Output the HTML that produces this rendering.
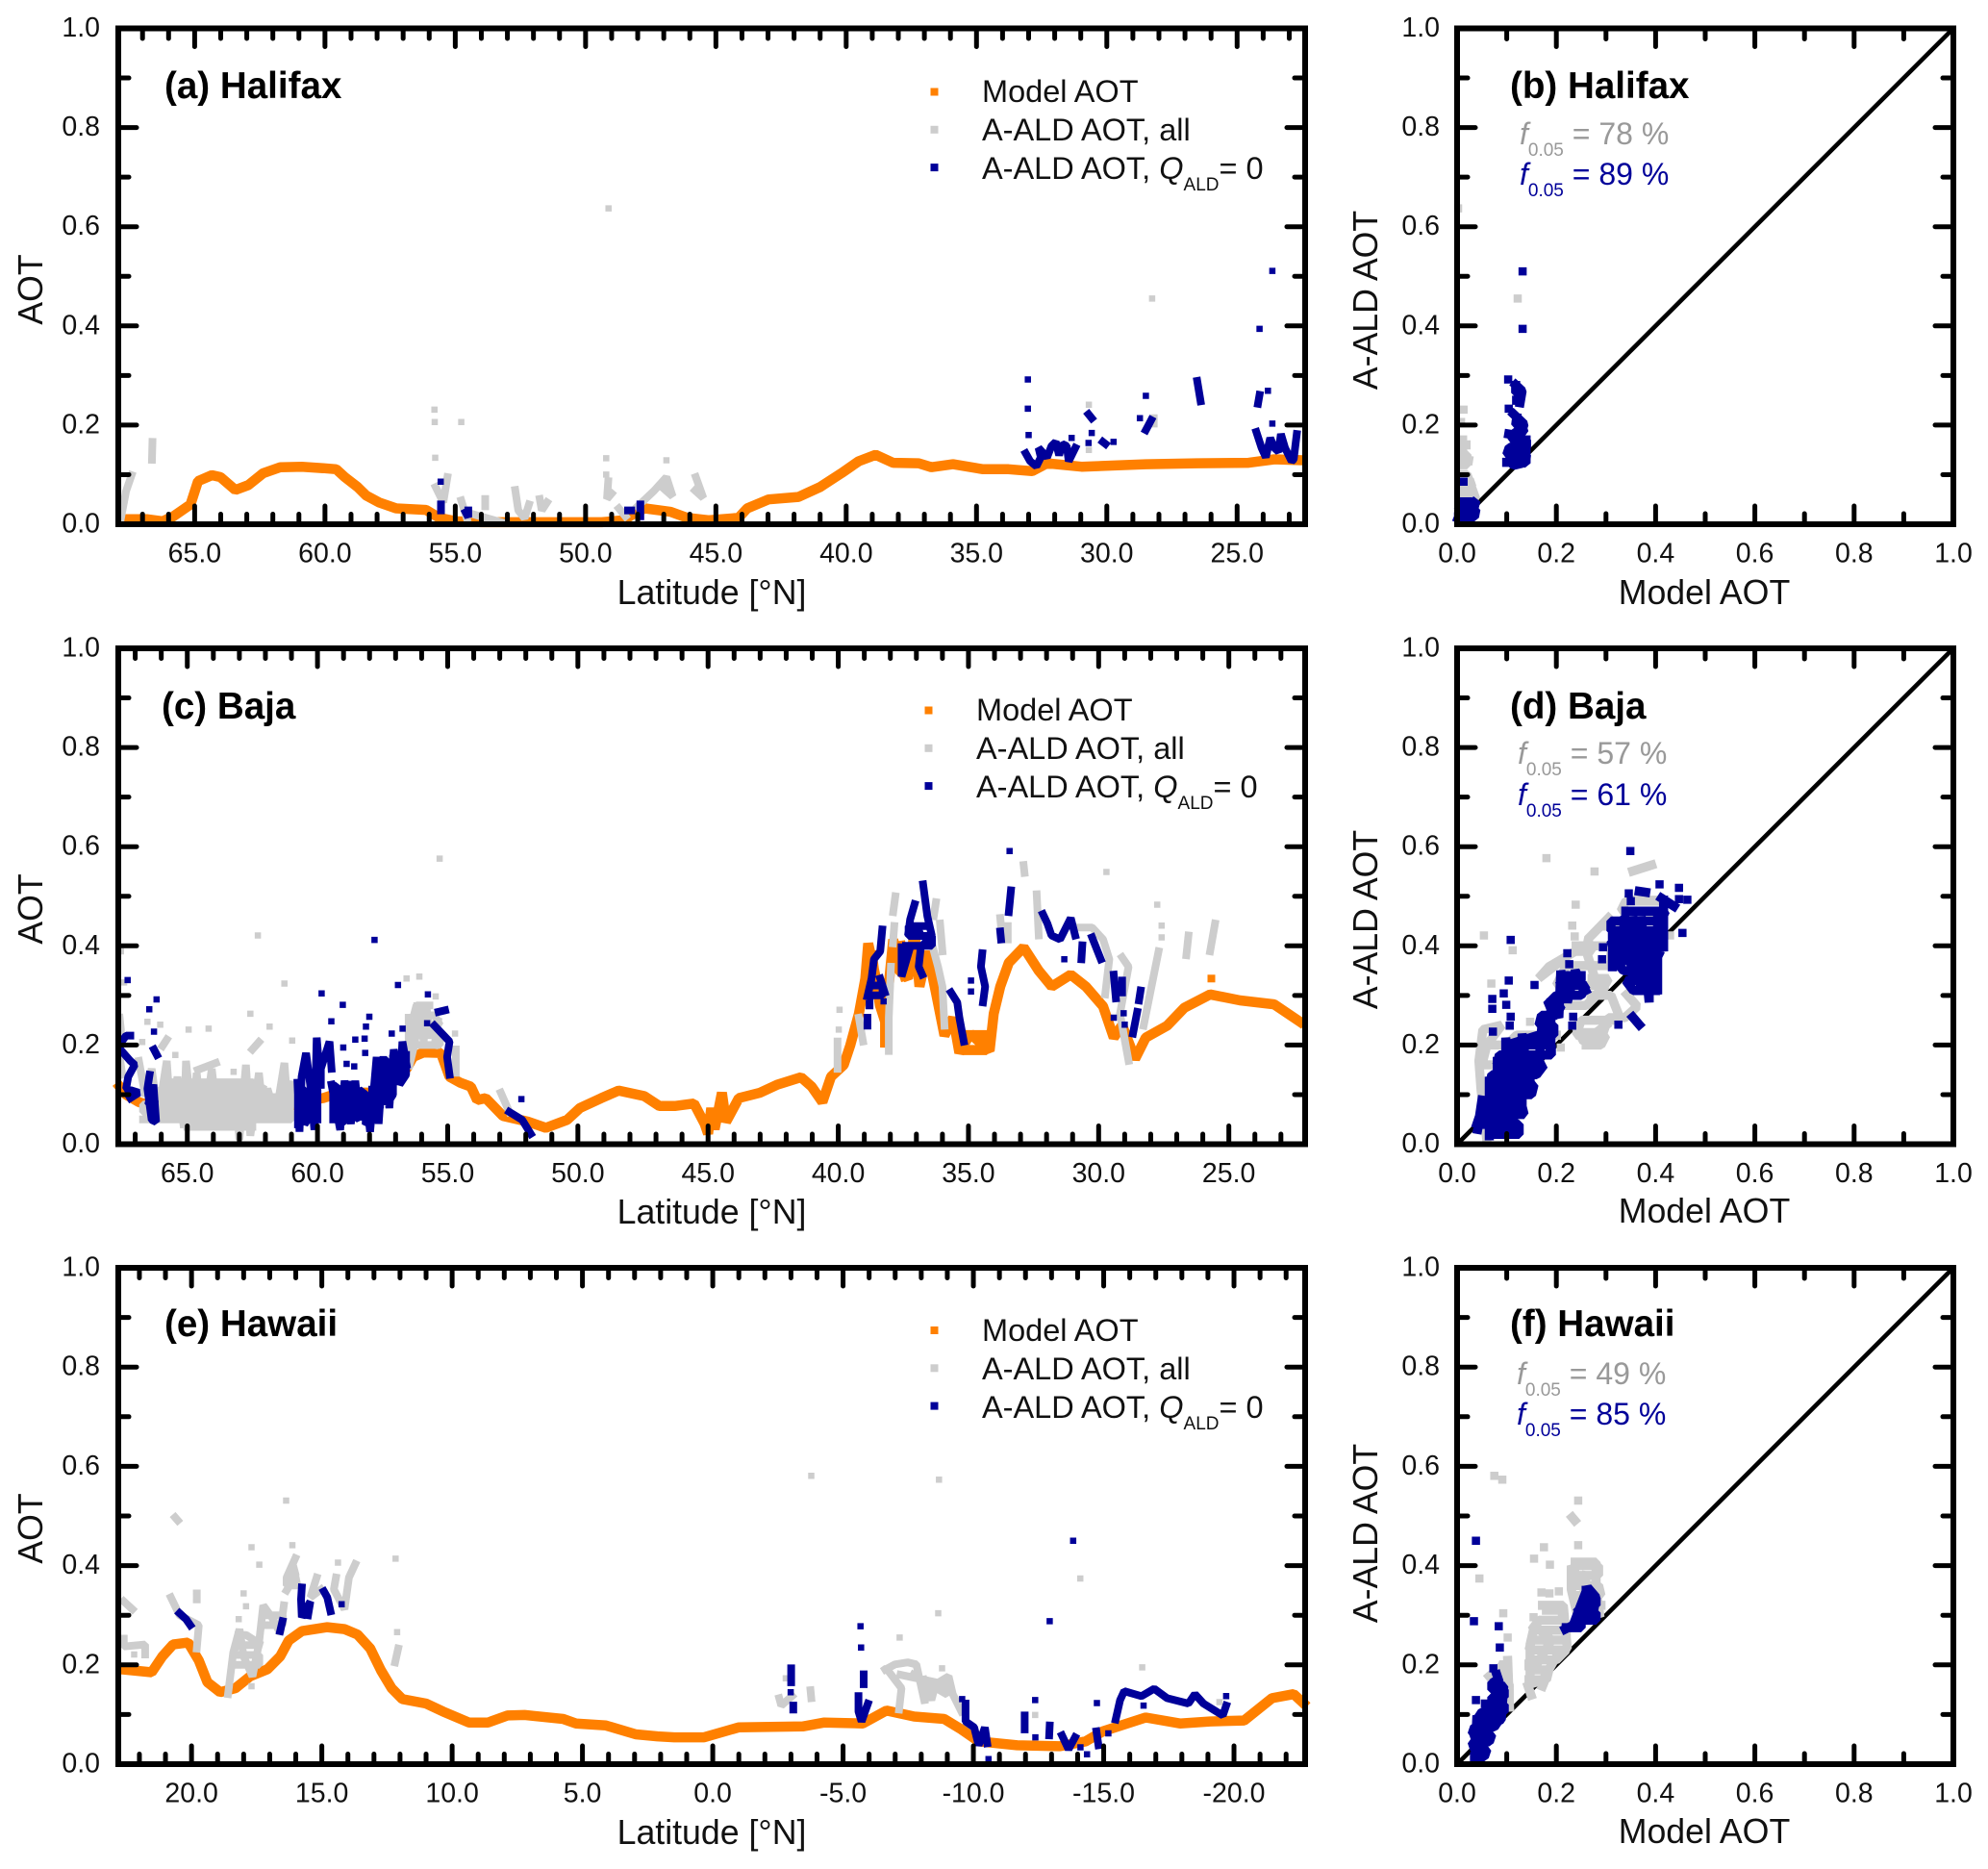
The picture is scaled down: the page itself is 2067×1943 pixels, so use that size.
<!DOCTYPE html>
<html lang="en">
<head>
<meta charset="utf-8">
<title>Model and A-ALD AOT along orbits</title>
<style>
html,body{margin:0;padding:0;background:#fff;}
svg{display:block;}
text{font-family:"Liberation Sans",Arial,sans-serif;fill:#111;}
.axt{font-size:35.7px;}
.ttl{font-size:38.6px;font-weight:bold;fill:#000;}
.leg{font-size:32.5px;}
.sub{font-size:19px;}
.fg{font-size:32px;fill:#999999;}
.fb{font-size:32px;fill:#000099;}
</style>
</head>
<body>
<svg id="fig" xmlns="http://www.w3.org/2000/svg" width="2067" height="1943" viewBox="0 0 2067 1943">
<rect x="0" y="0" width="2067" height="1943" fill="#ffffff"/>
<g id="marks"></g>

<g>
<text class="ttl" x="171" y="102">(a) Halifax</text>
<text class="axt" x="740" y="628" text-anchor="middle">Latitude [°N]</text>
<text class="axt" transform="translate(44,301) rotate(-90)" text-anchor="middle">AOT</text>
<text class="leg" x="1021" y="106">Model AOT</text>
<text class="leg" x="1021" y="146">A-ALD AOT, all</text>
<text class="leg" x="1021" y="186">A-ALD AOT, <tspan font-style="italic">Q</tspan><tspan class="sub" dy="12">ALD</tspan><tspan dy="-12">= 0</tspan></text>
</g>
<g>
<text class="ttl" x="1570" y="102">(b) Halifax</text>
<text class="axt" x="1772" y="628" text-anchor="middle">Model AOT</text>
<text class="axt" transform="translate(1432,312) rotate(-90)" text-anchor="middle">A-ALD AOT</text>
<text class="fg" x="1580" y="150"><tspan font-style="italic">f</tspan><tspan class="sub" dy="12">0.05</tspan><tspan dy="-12"> = 78 %</tspan></text>
<text class="fb" x="1580" y="192"><tspan font-style="italic">f</tspan><tspan class="sub" dy="12">0.05</tspan><tspan dy="-12"> = 89 %</tspan></text>
</g>
<g>
<text class="ttl" x="168" y="747">(c) Baja</text>
<text class="axt" x="740" y="1272" text-anchor="middle">Latitude [°N]</text>
<text class="axt" transform="translate(44,945) rotate(-90)" text-anchor="middle">AOT</text>
<text class="leg" x="1015" y="749">Model AOT</text>
<text class="leg" x="1015" y="789">A-ALD AOT, all</text>
<text class="leg" x="1015" y="829">A-ALD AOT, <tspan font-style="italic">Q</tspan><tspan class="sub" dy="12">ALD</tspan><tspan dy="-12">= 0</tspan></text>
</g>
<g>
<text class="ttl" x="1570" y="747">(d) Baja</text>
<text class="axt" x="1772" y="1271" text-anchor="middle">Model AOT</text>
<text class="axt" transform="translate(1432,956) rotate(-90)" text-anchor="middle">A-ALD AOT</text>
<text class="fg" x="1578" y="794"><tspan font-style="italic">f</tspan><tspan class="sub" dy="12">0.05</tspan><tspan dy="-12"> = 57 %</tspan></text>
<text class="fb" x="1578" y="837"><tspan font-style="italic">f</tspan><tspan class="sub" dy="12">0.05</tspan><tspan dy="-12"> = 61 %</tspan></text>
</g>
<g>
<text class="ttl" x="171" y="1389">(e) Hawaii</text>
<text class="axt" x="740" y="1917" text-anchor="middle">Latitude [°N]</text>
<text class="axt" transform="translate(44,1589) rotate(-90)" text-anchor="middle">AOT</text>
<text class="leg" x="1021" y="1394">Model AOT</text>
<text class="leg" x="1021" y="1434">A-ALD AOT, all</text>
<text class="leg" x="1021" y="1474">A-ALD AOT, <tspan font-style="italic">Q</tspan><tspan class="sub" dy="12">ALD</tspan><tspan dy="-12">= 0</tspan></text>
</g>
<g>
<text class="ttl" x="1570" y="1389">(f) Hawaii</text>
<text class="axt" x="1772" y="1916" text-anchor="middle">Model AOT</text>
<text class="axt" transform="translate(1432,1594) rotate(-90)" text-anchor="middle">A-ALD AOT</text>
<text class="fg" x="1577" y="1439"><tspan font-style="italic">f</tspan><tspan class="sub" dy="12">0.05</tspan><tspan dy="-12"> = 49 %</tspan></text>
<text class="fb" x="1577" y="1481"><tspan font-style="italic">f</tspan><tspan class="sub" dy="12">0.05</tspan><tspan dy="-12"> = 85 %</tspan></text>
</g>
</svg>

<script>
// ---------- tick labels ----------
const yTickValues = [0, 0.2, 0.4, 0.6, 0.8, 1.0];
const modelTickValues = [0, 0.2, 0.4, 0.6, 0.8, 1.0];
const northLatTicks = [65, 60, 55, 50, 45, 40, 35, 30, 25];
const hawaiiLatTicks = [20, 15, 10, 5, 0, -5, -10, -15, -20];

// ---------- (a) Halifax: [latitude, AOT], null separates runs ----------
const halifaxModel = [[67.71,.01],[66.81,.01],[66.23,.006],[65.82,.016],[65.16,.04],[64.87,.087],[64.34,.099],[64.01,.095],[63.44,.069],[62.94,.079],[62.37,.103],[61.71,.115],[60.89,.116],[60.07,.113],[59.57,.111],[59.24,.095],[58.75,.075],[58.42,.058],[57.93,.044],[57.27,.032],[56.12,.029],[55.62,.013],[54.97,.006],[53.98,.004],[52.66,.004],[51.02,.004],[49.38,.004],[48.55,.008],[48.06,.024],[47.73,.032],[46.74,.025],[46.1,.013],[45.28,.008],[44.13,.013],[43.8,.032],[42.98,.05],[41.83,.055],[41,.075],[40.18,.103],[39.52,.127],[38.87,.14],[38.2,.124],[37.22,.123],[36.73,.115],[35.9,.121],[34.75,.111],[33.77,.111],[32.86,.107],[32.29,.123],[30.97,.116],[28.5,.121],[26.53,.123],[24.56,.124],[23.57,.131],[22.5,.129]];
const halifaxAll = [[67.83,.012],[67.63,.067],[67.42,.099],null,[66.64,.13],[66.62,.166],null,[55.8,.231],null,[55.79,.206],null,[55.77,.134],null,[54.77,.206],null,[55.75,.075],[55.46,.044],[55.3,.095],null,[54.77,.048],[54.56,.012],null,[54.3,.02],[53.24,.004],null,[53.85,.051],[53.85,.036],null,[52.7,.069],[52.58,.028],[52.34,.012],[52.17,.04],null,[51.76,.051],[51.68,.028],[51.48,.044],null,[49.21,.133],null,[49.21,.1],null,[49.13,.087],[49.18,.051],[49,.062],null,[48.72,.032],[48.47,.016],null,[46.9,.129],null,[48,.036],[47.38,.067],[46.9,.095],[46.66,.056],[47.07,.075],null,[45.77,.095],[45.48,.053],[45.8,.068],null,[49.12,.637],null,[28.26,.455],null,[30.69,.241],null,[30.69,.15],null,[28.2,.214],[28.2,.203]];
const halifaxClear = [[55.56,.086],null,[55.55,.04],[55.55,.028],null,[54.6,.024],[54.5,.014],[54.5,.028],null,[48.37,.028],[48.25,.028],null,[47.9,.04],[47.9,.016],null,[33.03,.292],null,[33.03,.233],null,[33,.18],null,[33.11,.143],[32.94,.127],[32.7,.117],[32.53,.135],[32.62,.154],[32.29,.135],[32.12,.158],[31.96,.166],[31.83,.139],[31.71,.162],[31.54,.158],[31.46,.127],[31.21,.154],null,[31.35,.174],null,[30.7,.222],[30.58,.214],null,[30.58,.184],null,[30.7,.164],null,[30.15,.166],[30.05,.162],null,[29.74,.166],null,[28.73,.214],null,[28.5,.259],null,[28.5,.19],[28.3,.21],null,[26.53,.289],[26.4,.248],null,[24.14,.394],null,[23.65,.511],null,[23.82,.269],null,[24.14,.261],[24.2,.243],null,[23.65,.203],null,[24.26,.186],[24.06,.154],[23.9,.135],[23.73,.174],[23.57,.154],[23.41,.146],[23.32,.182],[23.16,.154],[22.91,.127],[22.83,.131],[22.71,.182]];

// ---------- (b) Halifax scatter: [model, A-ALD] ----------
const halifaxScatterAll = [[.122,.455],null,[.002,.637],null,[.013,.231],null,[.008,.206],null,[.011,.17],[.011,.131],[.023,.129],null,[.004,.1],[.02,.1],[.038,.05],[.004,.07],[.03,.06],[.004,.03],[.02,.01],null,[.005,.12],[.02,.12],[.02,.14],[.008,.14],[.008,.16],[.018,.16],null,[.005,.09],[.025,.09],[.03,.075],[.005,.075],[.005,.06],[.035,.06],[.035,.05],[.005,.05]];
const halifaxScatterClear = [[.132,.51],null,[.132,.394],null,[.103,.292],null,[.118,.281],[.131,.269],[.127,.245],null,[.104,.233],null,[.114,.222],[.135,.202],[.127,.178],[.104,.182],null,[.139,.17],[.139,.123],[.102,.131],[.114,.119],[.131,.123],[.125,.17],[.105,.14],[.135,.15],[.115,.16],null,[.013,.086],null,[.002,.012],[.015,.044],[.031,.02],[.038,.048],[.004,.03],[.012,.006],null,[.1,.125],[.138,.125],[.14,.14],[.1,.14],[.105,.155],[.14,.155],[.14,.17],[.11,.17],[.115,.185],[.135,.185],[.13,.2],[.118,.2],[.12,.215],null,[.12,.25],[.128,.25],[.128,.265],[.118,.265],[.118,.28],null,[.003,.015],[.035,.015],[.038,.03],[.003,.03],[.005,.045],[.02,.045]];

// ---------- (c) Baja ----------
const bajaModel = [[67.6,.116],[67.35,.1],[66.86,.085],[65.54,.061],[64.23,.053],[63.4,.057],[62.25,.053],[61.6,.057],[60.77,.085],[59.79,.093],[59.13,.104],[57.98,.104],[57.32,.128],[56.58,.152],[56.33,.176],[55.92,.185],[55.26,.184],[54.93,.136],[54.52,.124],[54.11,.116],[53.87,.089],[53.54,.093],[52.88,.057],[51.89,.045],[51.23,.033],[50.41,.049],[49.92,.073],[49.1,.093],[48.44,.108],[47.45,.097],[46.87,.077],[46.28,.077],[45.54,.082],[45.13,.041],[45,.021],[44.88,.073],[44.75,.03],[44.47,.104],[44.31,.045],[43.82,.093],[43,.104],[42.34,.12],[41.43,.135],[41.02,.116],[40.61,.085],[40.28,.136],[39.79,.16],[39.54,.199],[39.21,.263],[38.96,.334],[38.85,.405],[38.55,.334],[38.4,.28],[38.2,.247],[38.2,.195],[38.1,.3],[37.89,.413],[37.65,.35],[37.32,.334],[37.07,.429],[36.88,.318],[36.58,.389],[36.25,.306],[35.92,.219],[35.59,.255],[35.35,.184],[34.93,.223],[34.19,.188],[34.03,.263],[33.78,.318],[33.45,.366],[32.88,.397],[32.3,.35],[31.8,.318],[31.07,.342],[30.49,.318],[29.83,.278],[29.42,.215],[29.1,.24],[28.6,.172],[28.19,.215],[27.37,.239],[26.71,.275],[25.72,.302],[24.57,.29],[23.26,.282],[22.27,.247],null,[25.67,.334],null,[35,.19],[34.3,.19],[34.3,.22],[35,.22],null,[38.7,.38],[38.5,.3],[38.7,.32],null,[37.7,.38],[37.4,.33],[37.6,.4]];
const bajaAll = [[67.55,.389],null,[67.43,.326],null,[67.6,.255],[67.55,.231],[67.6,.176],[67.5,.14],null,[66.04,.241],null,[66.53,.247],null,[66.73,.206],null,[65.79,.211],[65.95,.198],null,[65.46,.18],null,[64.95,.231],null,[64.18,.233],null,[62.58,.263],null,[61.84,.237],null,[62.25,.206],[62.5,.191],null,[61.27,.324],null,[62.29,.421],null,[60.97,.209],null,[63.22,.146],null,[63.9,.164],[64.6,.15],null,[66.86,.168],[66.61,.097],[66.37,.152],[66.12,.057],[65.79,.168],[65.63,.049],[65.38,.136],[65.13,.033],[65.05,.168],[64.8,.041],[64.64,.144],[64.39,.029],[64.06,.152],[63.82,.041],[63.57,.12],[63.4,.033],[63.16,.116],[63,.009],[62.75,.16],[62.58,.017],[62.25,.144],[62.09,.065],[61.92,.112],[61.6,.057],[61.27,.164],[61.1,.049],[60.94,.12],null,[66.7,.05],[61,.05],[61,.065],[66.7,.065],[66.7,.08],[61,.08],[61,.095],[66.5,.095],[66,.11],[62,.11],[62.5,.125],[65.5,.125],null,[65,.035],[62.5,.035],null,[56.5,.255],[56.5,.152],[56.25,.207],[56.17,.286],[55.92,.207],[55.84,.286],[55.67,.223],[55.35,.255],[55.5,.2],null,[56.5,.2],[55.3,.2],[55.3,.22],[56.5,.22],[56.5,.24],[55.3,.24],[55.5,.26],[56.3,.26],[56.2,.28],[55.7,.28],null,[56.09,.338],null,[56.58,.334],null,[55.46,.298],null,[54.72,.223],null,[54.69,.191],[54.69,.144],null,[52.96,.104],[52.63,.065],null,[55.31,.576],null,[39.95,.271],null,[39.98,.231],null,[40.03,.207],[40.03,.152],null,[39.21,.255],[39.05,.207],null,[37.81,.5],[37.89,.468],null,[37.85,.44],[37.9,.405],null,[37.98,.358],[38.06,.255],[38.06,.188],null,[36.25,.488],[36.33,.46],null,[36.09,.445],[36,.389],null,[36.41,.405],[36.17,.358],[36,.318],[35.92,.239],null,[32.88,.563],[32.85,.547],null,[32.38,.504],[32.3,.421],null,[29.7,.549],null,[33.78,.456],[33.75,.44],null,[33.49,.44],[33.49,.413],null,[30.82,.437],[30.25,.437],[29.83,.413],[29.59,.373],[29.75,.302],null,[29.1,.377],[28.85,.358],[29.18,.263],[28.85,.168],null,[27.75,.483],null,[27.58,.441],null,[27.58,.417],null,[27.7,.389],[28.03,.302],[28.27,.239],null,[26.55,.421],[26.63,.381],null,[25.53,.445],[25.72,.389]];
const bajaClear = [[67.29,.331],null,[66.18,.292],null,[66.46,.272],null,[66.28,.227],null,[57.81,.412],null,[59.84,.304],null,[59.03,.281],null,[59.47,.248],null,[58.01,.257],null,[58.14,.237],null,[56.91,.321],null,[56.73,.233],null,[55.76,.302],null,[55.79,.244],null,[57.15,.223],null,[58.55,.211],null,[58.19,.213],null,[59.01,.195],null,[58.17,.184],null,[58.88,.162],null,[58.59,.157],null,[67.52,.207],[67.35,.219],[67.19,.219],null,[67.52,.188],[67.19,.168],[67.02,.16],[67.27,.136],[67.35,.112],[66.86,.104],[67.19,.093],null,[66.45,.14],[66.53,.112],[66.37,.049],[66.2,.045],[66.3,.12],[66.5,.08],[66.25,.08],null,[66.28,.191],[66.17,.18],null,[60.77,.124],[60.69,.025],[60.61,.136],[60.44,.184],[60.28,.12],[60.12,.029],[60.03,.215],[59.87,.112],[59.87,.152],[59.54,.207],[59.46,.152],null,[60.75,.04],[60.75,.11],[60.5,.11],[60.5,.04],[60.25,.06],[60.25,.13],[60,.11],[60,.05],null,[59.46,.12],[59.13,.029],[58.96,.128],[58.72,.041],[58.55,.128],[58.39,.049],[58.14,.104],[57.98,.025],[57.73,.176],[57.65,.041],[57.48,.176],[57.24,.073],[57.07,.191],[56.83,.12],[56.74,.207],[56.58,.16],null,[59.4,.05],[59.4,.12],[59.15,.11],[59.15,.04],[58.9,.05],[58.9,.12],[58.65,.12],[58.65,.06],[58.4,.05],[58.4,.11],[58.15,.1],[58.15,.04],[57.9,.05],[57.9,.11],null,[57.6,.08],[57.6,.17],[57.35,.17],[57.35,.08],[57.1,.1],[57.1,.18],[56.85,.18],[56.85,.12],[56.6,.14],[56.6,.18],null,[55.35,.267],[55.1,.27],null,[55.51,.239],[54.93,.207],[55.02,.176],[54.93,.14],null,[52.63,.065],[52.14,.049],[51.81,.021],null,[52.17,.091],null,[33.42,.591],null,[33.37,.512],[33.45,.468],null,[33.78,.429],[33.75,.413],null,[34.47,.385],[34.52,.358],[34.36,.318],[34.44,.286],null,[34.9,.33],null,[34.9,.308],null,[35.67,.306],[35.43,.286],[35.35,.255],[35.18,.207],null,[32.14,.464],[31.97,.445],[31.81,.421],[31.48,.413],[31.07,.456],[30.9,.421],null,[30.63,.401],[30.66,.373],null,[30.25,.417],[29.92,.373],null,[31.32,.373],null,[29.42,.342],[29.34,.294],null,[29.1,.33],[29.1,.306],null,[29.42,.255],null,[29.04,.264],null,[29,.241],null,[28.52,.267],[28.68,.223],null,[28.39,.31],[28.45,.29],null,[36.74,.524],[36.66,.492],[36.58,.46],[36.41,.421],[36.83,.397],[36.91,.358],[36.78,.342],null,[37.07,.484],[37.24,.453],[37.32,.421],[36.9,.43],null,[37.57,.397],[37.57,.338],[37.24,.397],[37.49,.366],null,[37.4,.4],[36.4,.4],[36.4,.42],[37.3,.42],[37.3,.44],[36.7,.44],null,[38.31,.433],[38.39,.389],[38.63,.373],[38.72,.334],[38.88,.298],null,[38.39,.334],[38.22,.306],null,[38.7,.32],[38.3,.32],[38.3,.3],[38.8,.3],[38.8,.28],null,[38.26,.288],null,[38.88,.255],[38.88,.239]];

// ---------- (d) Baja scatter ----------
const bajaScatterAll = [[.06,.006],[.048,.112],[.044,.168],[.052,.231],[.09,.24],[.06,.2],null,[.069,.324],null,[.054,.421],null,[.112,.391],null,[.18,.577],null,[.277,.55],null,[.239,.483],null,[.232,.441],null,[.237,.419],null,[.354,.551],[.392,.563],null,[.346,.492],[.396,.492],null,[.305,.456],[.263,.413],[.272,.389],[.238,.389],[.185,.358],[.164,.334],[.214,.373],null,[.272,.334],[.305,.334],[.288,.302],[.26,.39],null,[.238,.239],[.255,.207],[.288,.207],[.305,.255],[.338,.255],[.363,.278],[.342,.302],null,[.209,.195],null,[.429,.421],null,[.147,.247],null,[.25,.225],[.28,.225],[.3,.24],null,[.05,.12],[.1,.12],[.1,.16],[.05,.16],[.06,.2],[.1,.2],[.12,.22],[.2,.22],null,[.2,.28],[.26,.28],[.3,.32],[.2,.32],[.22,.36],[.31,.36],[.31,.4],[.24,.4],null,[.3,.44],[.36,.44],[.42,.47],[.33,.47],[.34,.49],[.4,.49],null,[.27,.3],[.31,.3],[.33,.25],[.25,.25],[.24,.22],[.3,.22],[.29,.2],[.26,.2]];
const bajaScatterClear = [[.349,.591],null,[.108,.412],null,[.104,.33],null,[.094,.304],null,[.071,.293],null,[.071,.273],null,[.099,.281],null,[.108,.257],null,[.106,.239],null,[.072,.227],null,[.156,.321],null,[.222,.385],null,[.226,.363],null,[.234,.257],null,[.232,.239],null,[.325,.241],null,[.354,.256],[.367,.241],null,[.454,.426],null,[.464,.493],null,[.447,.517],null,[.447,.494],null,[.408,.524],null,[.367,.51],[.38,.508],null,[.346,.506],null,[.35,.49],null,[.412,.496],[.437,.48],null,[.294,.397],null,[.292,.373],null,[.05,.089],[.04,.021],[.048,.065],[.04,.041],null,[.065,.017],[.065,.136],[.081,.025],[.081,.176],[.098,.025],[.098,.215],[.114,.025],[.114,.207],[.131,.073],[.131,.223],[.147,.097],[.147,.176],[.164,.152],[.172,.255],[.189,.184],[.189,.294],[.205,.255],[.209,.35],[.222,.286],[.238,.35],[.259,.31],null,[.065,.02],[.125,.02],[.125,.04],[.05,.04],[.05,.06],[.135,.06],[.13,.08],[.065,.08],[.065,.1],[.15,.1],[.155,.12],[.065,.12],[.07,.14],[.16,.14],[.175,.16],[.08,.16],[.085,.18],[.19,.18],[.19,.2],[.1,.2],[.165,.22],[.195,.22],[.195,.24],[.165,.24],[.17,.26],[.2,.26],[.21,.28],[.18,.28],[.2,.3],[.25,.3],[.26,.32],[.205,.32],[.22,.34],[.25,.34],null,[.313,.358],[.313,.437],[.329,.366],[.338,.46],[.354,.334],[.354,.46],[.371,.302],[.371,.46],[.387,.286],[.387,.437],[.404,.302],[.404,.476],[.416,.389],[.416,.492],null,[.34,.47],[.42,.47],[.41,.45],[.31,.45],[.31,.43],[.41,.43],[.41,.41],[.31,.41],[.315,.39],[.41,.39],[.4,.37],[.32,.37],[.335,.35],[.4,.35],[.4,.33],[.34,.33],[.355,.31],[.4,.31]];

// ---------- (e) Hawaii ----------
const hawaiiModel = [[22.68,.191],[21.53,.185],[21.12,.217],[20.71,.241],[20.13,.245],[19.72,.209],[19.39,.165],[18.9,.145],[18.32,.153],[17.75,.177],[17.09,.191],[16.6,.217],[16.27,.249],[15.77,.268],[14.79,.276],[14.13,.272],[13.63,.261],[13.14,.233],[12.73,.189],[12.32,.153],[11.91,.131],[11,.122],[10.35,.106],[9.36,.084],[8.62,.084],[7.88,.098],[7.22,.099],[5.74,.091],[5.25,.082],[4.1,.078],[2.95,.06],[2.12,.056],[1.48,.054],[.33,.054],[-.99,.074],[-3.45,.076],[-4.28,.084],[-5.76,.082],[-6.66,.108],[-7.73,.096],[-8.88,.091],[-9.54,.07],[-10.2,.046],[-11.68,.038],[-13.32,.036],[-14.31,.046],[-14.97,.066],[-16.61,.094],[-17.93,.082],[-19.08,.086],[-20.39,.088],[-21.46,.133],[-22.29,.141],[-22.66,.123]];
const hawaiiAll = [[22.6,.328],[22.27,.312],null,[22.6,.253],[22.6,.237],[21.78,.241],[21.78,.221],null,[22.2,.221],null,[20.79,.336],[20.46,.3],[19.72,.28],[19.8,.233],null,[19.8,.344],[19.8,.332],null,[20.63,.497],[20.53,.491],null,[18.6,.141],[18.4,.225],[18.16,.272],[18,.217],[17.66,.177],[17.42,.241],[17.25,.32],[16.92,.296],[16.6,.264],[16.46,.32],null,[18.4,.2],[17.4,.2],[17.4,.22],[18.4,.22],[18.3,.24],[17.3,.24],[17.9,.26],[18.2,.26],null,[17.2,.3],[16.5,.3],[16.5,.28],[17.1,.28],null,[17.7,.437],null,[17.4,.402],null,[18,.344],null,[17.91,.318],null,[18.19,.292],null,[17.7,.157],null,[16.37,.531],null,[16.13,.441],null,[16.02,.415],[16.35,.376],[16.35,.36],[15.94,.36],[16.1,.4],[16,.38],[16.35,.35],null,[15.2,.376],[15.44,.336],[15.03,.352],null,[14.38,.406],null,[14.46,.376],[14.54,.352],[14.13,.312],[13.96,.376],[13.72,.403],null,[12.17,.414],null,[12.11,.266],null,[12.07,.233],[12.19,.205],null,[-3.78,.581],null,[-8.68,.573],null,[-8.65,.304],null,[-7.17,.255],null,[-8.8,.193],null,[-16.48,.195],null,[-14.1,.374],null,[-12.37,.099],null,[-19.44,.125],null,[-2.8,.173],null,[-2.55,.133],[-2.63,.118],[-3.04,.137],null,[-3.75,.149],[-3.78,.133],null,[-7.15,.11],[-7.24,.153],[-6.66,.193],[-6.5,.187],[-6.99,.201],[-7.48,.205],[-7.81,.201],[-8.14,.122],[-8.06,.177],[-8.39,.129],[-8.55,.161],[-9.05,.177],[-9.21,.141],[-9.54,.106],null,[-7.2,.18],[-9,.16],[-9,.14],[-7.7,.18]];
const hawaiiClear = [[20.46,.304],[20.21,.292],[20.05,.28],null,[16.51,.288],[16.6,.268],null,[15.77,.356],[15.8,.332],[15.77,.296],[15.44,.328],[15.53,.3],null,[14.92,.348],[14.79,.336],[14.67,.308],null,[14.24,.322],null,[-3.01,.193],[-3.01,.165],null,[-2.99,.145],null,[-3.09,.118],[-3.09,.11],null,[-5.67,.278],null,[-5.69,.235],null,[-5.79,.181],[-5.79,.161],null,[-5.59,.137],[-5.59,.106],[-5.71,.086],[-6,.129],[-5.84,.106],null,[-9.57,.131],null,[-9.7,.122],[-9.7,.086],[-10.03,.074],[-10.2,.038],[-10.44,.074],[-10.53,.042],null,[-10.58,.01],null,[-11.97,.098],[-11.97,.07],null,[-12.37,.129],null,[-12.38,.054],null,[-12.93,.288],null,[-12.93,.078],[-12.91,.058],null,[-13.83,.45],null,[-13.4,.058],[-13.65,.03],[-13.9,.054],null,[-14.11,.034],null,[-14.36,.02],null,[-14.74,.123],null,[-14.72,.066],[-14.8,.038],null,[-15.18,.062],null,[-15.46,.09],[-15.63,.129],[-15.79,.147],[-16.45,.137],[-16.94,.152],[-17.43,.133],[-18.25,.122],[-18.5,.141],[-18.83,.122],[-19.57,.098],[-19.7,.118],null,[-19.7,.137],null,[-16.53,.118]];

// ---------- (f) Hawaii scatter ----------
const hawaiiScatterAll = [[.075,.581],null,[.091,.573],null,[.244,.531],null,[.232,.497],[.237,.491],null,[.244,.441],null,[.175,.437],null,[.155,.414],null,[.187,.402],null,[.045,.374],null,[.093,.304],null,[.102,.255],null,[.17,.346],null,[.186,.344],null,[.205,.348],null,[.154,.296],null,[.238,.407],[.28,.407],[.28,.352],[.288,.296],[.23,.4],[.23,.352],[.247,.28],[.26,.38],null,[.24,.4],[.285,.4],[.285,.38],[.24,.38],[.235,.36],[.285,.36],[.29,.34],[.24,.34],[.245,.32],[.29,.32],null,[.172,.32],[.214,.32],[.222,.233],[.205,.225],[.172,.169],[.147,.161],[.147,.241],[.156,.28],[.19,.25],[.16,.2],null,[.18,.31],[.21,.31],[.215,.29],[.165,.29],[.15,.27],[.22,.27],[.22,.25],[.15,.25],[.145,.23],[.22,.23],[.2,.21],[.145,.21],[.145,.19],[.185,.19],[.18,.17],[.145,.17],null,[.143,.157],[.149,.139],null,[.172,.157],[.18,.177],null,[.102,.209],[.106,.106],[.094,.201],[.065,.177],null,[.1,.2],[.085,.2],[.105,.18],[.09,.18],[.105,.16],[.105,.12]];
const hawaiiScatterClear = [[.038,.45],null,[.034,.288],null,[.084,.278],null,[.086,.235],null,[.038,.129],null,[.056,.122],null,[.073,.193],null,[.073,.161],[.094,.157],[.089,.09],[.073,.082],[.08,.13],[.07,.11],null,[.065,.082],[.06,.058],[.04,.098],[.036,.006],[.044,.014],[.052,.05],[.031,.058],[.05,.09],null,[.035,.015],[.055,.015],[.06,.03],[.035,.03],[.03,.045],[.065,.045],[.07,.06],[.03,.06],[.035,.075],[.075,.075],[.085,.09],[.04,.09],[.05,.105],[.095,.105],[.095,.12],[.07,.12],[.07,.135],[.095,.135],[.095,.15],[.07,.15],[.07,.165],[.085,.165],[.08,.18],null,[.218,.272],[.234,.28],[.243,.304],[.263,.356],[.28,.336],[.272,.292],[.255,.296],[.265,.32],null,[.22,.275],[.25,.275],[.25,.29],[.28,.29],[.28,.305],[.24,.305],[.255,.32],[.28,.32],[.28,.335],[.26,.335],[.26,.35]];

// ---------- drawing ----------
const NS = 'http://www.w3.org/2000/svg';
const root = document.getElementById('marks');
function mk(parent, tag, attrs) {
  const el = document.createElementNS(NS, tag);
  for (const k in attrs) el.setAttribute(k, attrs[k]);
  parent.appendChild(el);
  return el;
}
function drawRuns(parent, pts, sx, sy, color, w, dot, name) {
  // runs of connected readings are stroked thick; lone readings are small squares
  let runs = '', dots = '';
  for (let i = 0; i < pts.length; i++) {
    const p = pts[i];
    if (!p) continue;
    const x = sx(p[0]).toFixed(1), y = sy(p[1]).toFixed(1);
    const prev = i > 0 && pts[i - 1], next = i < pts.length - 1 && pts[i + 1];
    if (prev) runs += 'L' + x + ' ' + y;
    else if (next) runs += 'M' + x + ' ' + y;
    else dots += 'M' + x + ' ' + y + 'h0.01';
  }
  const a = mk(parent, 'path', {d: runs, fill: 'none', stroke: color, 'stroke-width': w, 'stroke-linecap': 'square', 'stroke-linejoin': 'bevel'});
  
  
  const b = mk(parent, 'path', {d: dots, fill: 'none', stroke: color, 'stroke-width': dot, 'stroke-linecap': 'square'});
  
  
}
function drawFrame(parent, L, R, T, B, sx, sy, xMajor, xMinor, yLen, xLen) {
  const frame = mk(parent, 'rect', {x: L, y: T, width: R - L, height: B - T, fill: 'none', stroke: '#000', 'stroke-width': 6});
  
  
  const tick = (x1, y1, x2, y2) => {
    const t = mk(parent, 'line', {x1: x1, y1: y1, x2: x2, y2: y2, stroke: '#000', 'stroke-width': 5, 'stroke-linecap': 'round'});
    
    
  };
  for (const v of xMajor) { const x = sx(v); tick(x, B, x, B - xLen[0]); tick(x, T, x, T + xLen[0]); }
  for (const v of xMinor) { const x = sx(v); tick(x, B, x, B - xLen[1]); tick(x, T, x, T + xLen[1]); }
  for (let i = 0; i <= 10; i++) {
    const y = sy(i / 10), long = i % 2 === 0;
    if (i === 0 || i === 10) continue;
    tick(L, y, L + (long ? yLen[0] : yLen[1]), y);
    tick(R, y, R - (long ? yLen[0] : yLen[1]), y);
  }
}
function yLabels(parent, sy, right) {
  for (const v of yTickValues) {
    const t = mk(parent, 'text', {x: right, y: sy(v) + 8.5, 'text-anchor': 'end', 'font-size': 28.5});
    
    
    t.textContent = v.toFixed(1);
  }
}
function timePanel(id, T, B, latL, latR, majors, model, all, clear, legX, legY) {
  const L = 123, R = 1357;
  const sx = v => L + (latL - v) / (latL - latR) * (R - L);
  const sy = v => B - v * (B - T);
  const g = mk(root, 'g', {});
  
  
  drawRuns(g, model, sx, sy, '#ff8000', 10.5, 8, 'model-aot-series');
  drawRuns(g, all, sx, sy, '#cdcdcd', 8, 6.5, 'aald-aot-all-series');
  drawRuns(g, clear, sx, sy, '#000099', 8, 6.5, 'aald-aot-qald0-series');
  const minors = [];
  for (let v = Math.floor(latL); v >= Math.ceil(latR); v--) if (v % 5 !== 0) minors.push(v);
  drawFrame(g, L, R, T, B, sx, sy, majors, minors, [19, 11], [19, 10.5]);
  yLabels(g, sy, 104);
  for (const v of majors) {
    const t = mk(g, 'text', {x: sx(v), y: B + 39.5, 'text-anchor': 'middle', 'font-size': 28.5});
    
    
    t.textContent = v.toFixed(1);
  }
  const cols = ['#ff8000', '#cdcdcd', '#000099'];
  cols.forEach((c, i) => {
    const m = mk(g, 'rect', {x: legX - 4, y: legY + i * 39.3 - 4, width: 8, height: 8, fill: c});
    
    
  });
}
function scatterPanel(id, T, B, all, clear) {
  const L = 1515, R = 2031;
  const sx = v => L + v * (R - L);
  const sy = v => B - v * (B - T);
  const g = mk(root, 'g', {});
  
  
  const diag = mk(g, 'line', {x1: sx(0), y1: sy(0), x2: sx(1), y2: sy(1), stroke: '#000', 'stroke-width': 4.6});
  
  
  drawRuns(g, all, sx, sy, '#cdcdcd', 9.5, 8.5, 'scatter-all-points');
  drawRuns(g, clear, sx, sy, '#000099', 9.5, 8.5, 'scatter-qald0-points');
  const minors = [0.1, 0.3, 0.5, 0.7, 0.9];
  drawFrame(g, L, R, T, B, sx, sy, [0.2, 0.4, 0.6, 0.8], minors, [19, 11], [19, 11]);
  yLabels(g, sy, 1497);
  for (const v of modelTickValues) {
    const t = mk(g, 'text', {x: sx(v), y: B + 39.5, 'text-anchor': 'middle', 'font-size': 28.5});
    
    
    t.textContent = v.toFixed(1);
  }
}
timePanel('a', 29.5, 545, 67.93, 22.39, northLatTicks, halifaxModel, halifaxAll, halifaxClear, 971.5, 95.5);
scatterPanel('b', 29.5, 545, halifaxScatterAll, halifaxScatterClear);
timePanel('c', 674, 1189.5, 67.65, 22.07, northLatTicks, bajaModel, bajaAll, bajaClear, 965.5, 738.5);
scatterPanel('d', 674, 1189.5, bajaScatterAll, bajaScatterClear);
timePanel('e', 1318, 1834, 22.81, -22.73, hawaiiLatTicks, hawaiiModel, hawaiiAll, hawaiiClear, 971.5, 1383);
scatterPanel('f', 1318, 1834, hawaiiScatterAll, hawaiiScatterClear);
</script>
</body>
</html>
